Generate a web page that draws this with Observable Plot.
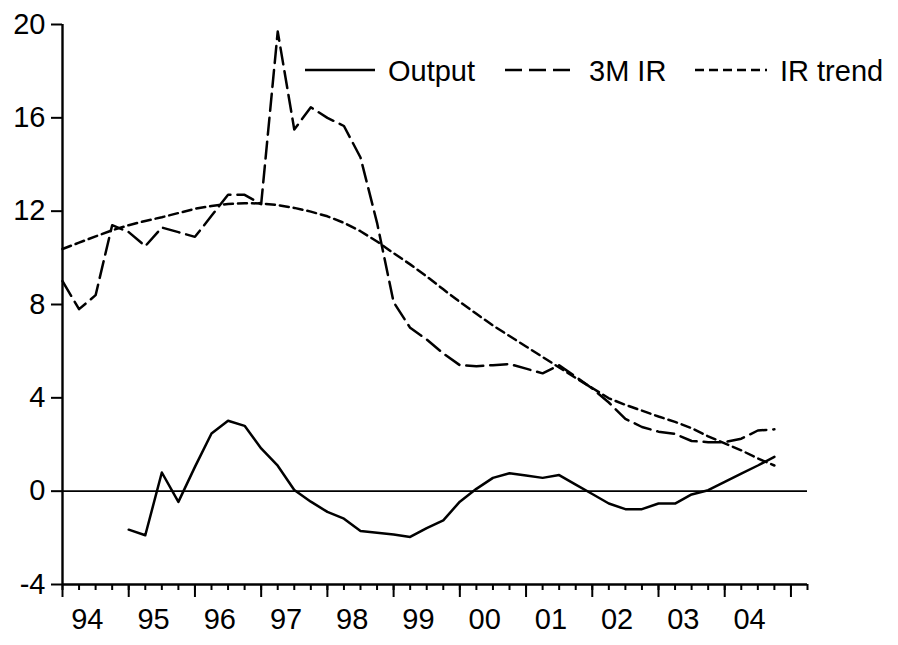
<!DOCTYPE html>
<html>
<head>
<meta charset="utf-8">
<script src="https://cdn.jsdelivr.net/npm/d3@7"></script>
<script src="https://cdn.jsdelivr.net/npm/@observablehq/plot@0.6"></script>
<style>
  body { margin: 0; background: #fff; }
  #wrap { position: relative; width: 898px; height: 645px; }
  #legend { position: absolute; left: 0; top: 0; pointer-events: none; }
</style>
</head>
<body>
<div id="wrap"></div>
<script>
// ---- data (quarterly, 1994Q1 .. 2004Q4) ----
const startYear = 1994;
const seriesNames = ["Output", "3M IR", "IR trend"];

const ir3m = [
  9.0, 7.8, 8.4, 11.4, 11.1, 10.5, 11.3, 11.1,
  10.9, 11.8, 12.7, 12.7, 12.3, 19.7, 15.5, 16.45,
  16.0, 15.65, 14.3, 11.5, 8.1, 7.0, 6.5, 5.9,
  5.4, 5.35, 5.4, 5.45, 5.25, 5.05, 5.4, 4.9,
  4.4, 3.8, 3.1, 2.75, 2.55, 2.45, 2.15, 2.1,
  2.1, 2.25, 2.6, 2.65
];

const irTrend = [
  10.38, 10.65, 10.92, 11.18, 11.4, 11.58, 11.74, 11.92,
  12.1, 12.22, 12.31, 12.34, 12.33, 12.26, 12.14, 11.98,
  11.78, 11.5, 11.14, 10.7, 10.2, 9.72, 9.2, 8.65,
  8.11, 7.6, 7.1, 6.65, 6.2, 5.75, 5.3, 4.85,
  4.42, 3.98, 3.7, 3.45, 3.2, 2.97, 2.7, 2.35,
  2.05, 1.75, 1.4, 1.1
];

const outputStartQuarter = 4; // 1995Q1
const output = [
  -1.65, -1.89, 0.80, -0.46, 1.04, 2.47, 3.02, 2.80,
  1.83, 1.09, 0.05, -0.45, -0.89, -1.18, -1.71, -1.78,
  -1.86, -1.96, -1.58, -1.25, -0.45, 0.1, 0.57, 0.77,
  0.67, 0.57, 0.69, 0.28, -0.12, -0.53, -0.77, -0.77,
  -0.53, -0.53, -0.14, 0.04, 0.4, 0.75, 1.1, 1.47
];

const yTicks = [-4, 0, 4, 8, 12, 16, 20];
const yearLabels = ["94", "95", "96", "97", "98", "99", "00", "01", "02", "03", "04"];
const quartersOnAxis = 45; // axis runs to 2005Q2

// ---- derived tables ----
const qTime = i => startYear + i / 4;
const irRows = ir3m.map((v, i) => ({t: qTime(i), v}));
const trendRows = irTrend.map((v, i) => ({t: qTime(i), v}));
const outRows = output.map((v, i) => ({t: qTime(i + outputStartQuarter), v}));

const xDomain = [startYear, qTime(quartersOnAxis)];
const yDomain = [yTicks[0], yTicks[yTicks.length - 1]];
const minorTicks = d3.range(quartersOnAxis + 1).map(qTime);
const majorTicks = d3.range(0, quartersOnAxis + 1, 4).map(qTime);
const labelPos = yearLabels.map((s, k) => startYear + k + 0.375);

const font = "'Liberation Sans', Arial, Helvetica, sans-serif";
const fs = 29;
const lw = 2.5;

const chart = Plot.plot({
  width: 898,
  height: 645,
  marginLeft: 62,
  marginRight: 91,
  marginTop: 24,
  marginBottom: 61,
  style: {fontFamily: font, fontSize: fs + "px", color: "#000", background: "#fff"},
  x: {domain: xDomain, label: null},
  y: {domain: yDomain, label: null},
  marks: [
    Plot.ruleY([0], {stroke: "#000", strokeWidth: 1.6}),
    Plot.lineY(trendRows, {x: "t", y: "v", stroke: "#000", strokeWidth: lw, strokeDasharray: "9,5"}),
    Plot.lineY(irRows, {x: "t", y: "v", stroke: "#000", strokeWidth: lw, strokeDasharray: "17,7"}),
    Plot.lineY(outRows, {x: "t", y: "v", stroke: "#000", strokeWidth: lw}),
    Plot.ruleX([xDomain[0]], {stroke: "#000", strokeWidth: 2.4}),
    Plot.ruleY([yDomain[0]], {stroke: "#000", strokeWidth: 2.4}),
    Plot.axisY(yTicks, {tickSize: 11, tickPadding: 6, strokeWidth: 2, fontSize: fs, label: null, tickFormat: d => String(d)}),
    Plot.axisX(minorTicks, {tickSize: 6, strokeWidth: 2, tickFormat: () => "", label: null}),
    Plot.axisX(majorTicks, {tickSize: 13, strokeWidth: 2, tickFormat: () => "", label: null}),
    Plot.axisX(labelPos, {tickSize: 0, tickPadding: 24, fontSize: fs, label: null,
      tickFormat: d => yearLabels[Math.round(d - 0.375 - startYear)]})
  ]
});

const wrap = document.getElementById("wrap");
wrap.appendChild(chart);

// ---- legend (inside plot area, top right) ----
const legendItems = [
  {name: seriesNames[0], dash: null, x0: 305, x1: 375, tx: 388},
  {name: seriesNames[1], dash: "17,7", x0: 505, x1: 575, tx: 589},
  {name: seriesNames[2], dash: "9,5", x0: 695, x1: 767, tx: 780}
];
const leg = d3.select(wrap).append("svg")
  .attr("id", "legend").attr("width", 898).attr("height", 645);
const ly = 70;
for (const it of legendItems) {
  leg.append("line")
    .attr("x1", it.x0).attr("x2", it.x1).attr("y1", ly).attr("y2", ly)
    .attr("stroke", "#000").attr("stroke-width", lw)
    .attr("stroke-dasharray", it.dash);
  leg.append("text")
    .attr("x", it.tx).attr("y", ly + 11)
    .attr("font-family", font).attr("font-size", fs).attr("fill", "#000")
    .text(it.name);
}
</script>
</body>
</html>
